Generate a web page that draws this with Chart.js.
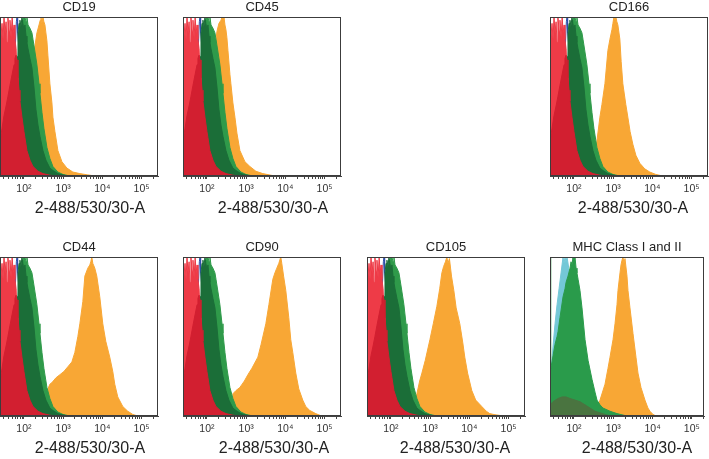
<!DOCTYPE html>
<html>
<head>
<meta charset="utf-8">
<script src="https://cdn.jsdelivr.net/npm/chart.js@4.4.0/dist/chart.umd.min.js"></script>
<style>
    html, body { margin: 0; padding: 0; background: #fff; overflow: hidden; width: 709px; height: 459px; }
    canvas { position: absolute; }
</style>
</head>
<body>
<script>
// axis
const xTitle = '2-488/530/30-A';
const powerLabels = { 100: '10\u00b2', 1000: '10\u00b3', 10000: '10\u2074', 100000: '10\u2075' };

// histograms, [fluorescence, % of max]
const redBright = [[24.5,100],[25.5,100],[26,88],[27.6,96],[29.3,86],[31,100],[33,90],[35,97],[37,84],[39,100],[42,91],[44,98],[47,87],[50,100],[53,90],[56,95],[59,86],[63,80],[67,62],[70,48],[75,30],[80,18],[90,8],[100,3],[113,0]];
const redDark = [[24.5,22],[27.6,30],[31,38],[35,44],[39,50],[44,57],[50,64],[56,70],[59,74],[63,76],[66.5,73],[70.5,62],[75,54],[79,47],[89,37],[100,28],[106,24],[119,16],[142,10],[170,6],[228,3],[305,1.5],[459,0.5],[653,0]];
const blueCtl = [[50,40],[60,80],[64,97],[66.5,100],[69,90],[75,80],[90,60],[120,35],[170,12],[230,3],[300,0]];
const greenDark = [[59,40],[66.5,75],[70.5,90],[75,96],[79,98],[84,94],[89,100],[94,96],[100,92],[106,95],[113,88],[119,84],[127,80],[142,74],[160,68],[180,56],[202,42],[228,32],[256,25],[305,16],[363,10],[459,5],[548,3.5],[734,1.5],[1044,0.5],[1319,0]];
const greenLight = [[66.5,60],[75,85],[84,92],[94,98],[100,100],[106,100],[113,97],[119,100],[127,95],[142,93],[160,90],[170,86],[191,78],[214,70],[242,58],[256,52],[288,40],[323,30],[385,18],[459,11],[548,6],[734,2.5],[985,1],[1483,0]];

const cd19Orange = [[79,5],[113,30],[142,55],[170,70],[191,82],[214,90],[242,95],[260,98],[272,100],[288,96],[305,100],[323,97],[343,95],[363,90],[385,85],[408,76],[459,58],[517,46],[548,37],[616,28],[734,16],[929,9],[1244,5],[1767,2.5],[2663,1.5],[4254,0.7],[6407,0]];
const cd45Orange = [[79,5],[113,28],[142,55],[160,75],[170,86],[180,91],[202,96],[228,98],[242,100],[256,97],[272,100],[288,95],[305,92],[323,87],[343,79],[385,64],[408,58],[459,46],[517,37],[581,27],[692,16],[929,9],[1244,6],[1767,3],[2663,1.5],[4254,0.5],[5400,0]];
const cd166Orange = [[228,0],[323,5],[343,12],[385,22],[459,37],[517,45],[616,58],[734,79],[826,86],[929,92],[985,96],[1044,100],[1107,98],[1173,100],[1244,97],[1319,95],[1483,86],[1600,72],[1767,58],[2100,45],[2368,37],[2700,28],[3175,20],[3800,13],[4782,8],[6400,4.5],[8584,2.5],[12210,1],[18410,0]];
const cd44Orange = [[323,0],[343,5],[408,17],[459,20],[517,21],[653,24],[826,26],[1044,28],[1319,31],[1667,34],[1987,40],[2368,50],[2663,58],[3175,72],[3569,88],[4254,93],[4782,95],[5070,97],[5376,100],[5700,96],[6407,93],[7202,88],[8584,75],[10250,58],[12210,47],[15440,37],[18410,28],[20700,20],[24700,12],[33100,6],[44400,3],[59500,1],[79800,0]];
const cd90Orange = [[385,0],[440,8],[459,14],[550,16],[692,18],[900,22],[1107,26],[1400,30],[1987,37],[2400,45],[3175,58],[3800,70],[4782,86],[5400,90],[6043,93],[6800,96],[7636,100],[8100,96],[9000,88],[10250,79],[12210,62],[13730,48],[15440,40],[18410,27],[22000,17],[27750,10],[33100,6],[41900,3.5],[59500,1.5],[75200,0.5],[85000,0]];
const cd105Orange = [[343,0],[408,8],[459,14],[540,22],[616,27],[750,35],[985,48],[1200,58],[1483,69],[1750,80],[1987,90],[2200,94],[2450,97],[2663,100],[2850,96],[3100,99],[3500,88],[4012,79],[4600,68],[5700,58],[6800,46],[7636,37],[9000,27],[11520,16],[14500,10],[20700,6],[27000,3],[33100,1.5],[45000,0.8],[75200,0]];

const mhcCyan = [[25,20],[26,28],[27.6,36],[29.3,44],[32.9,58],[37,70],[41.6,80],[46.8,90],[52.6,100],[55.7,96],[59.1,100],[62.7,97],[66.5,100],[74.7,92],[89,80],[113,60],[142,40],[191,20],[256,8],[343,2],[459,0]];
const mhcGreen = [[24.5,100],[25.3,100],[25.6,30],[27.6,34],[29.3,38],[32.9,45],[37,50],[39.2,53],[44.1,62],[52.6,75],[59.1,80],[62.7,84],[70.5,88],[79.2,93],[84,97],[89,95],[94.4,100],[100,96],[106,100],[113,93],[119,90],[127,86],[142,79],[160,68],[191,48],[228,35],[288,23],[343,15],[385,10],[459,7],[548,5],[826,3],[1244,1.5],[2234,0]];
const mhcBump = [[24.5,7],[29.3,9],[39.2,11],[49.6,12],[62.7,12],[79.2,11],[106,10],[142,9],[191,7],[256,5],[343,3],[459,2],[616,1],[826,0]];
const mhcOrange = [[343,0],[459,10],[616,20],[734,30],[826,37],[985,48],[1107,58],[1244,70],[1319,79],[1483,90],[1572,95],[1667,98],[1767,100],[1874,96],[1987,99],[2234,88],[2368,79],[2663,68],[3175,52],[3784,37],[4254,27],[5070,18],[6407,10],[7636,5],[8584,3],[10250,1],[12210,0]];

const colors = {
    redBright: '#ee3b47', redDark: '#d21f30', blue: '#2f4fa8',
    greenDark: '#1b6e38', greenLight: '#2f9a4a', orange: '#f8a735',
    cyan: '#74c8d7', green: '#2a9b4b', bump: '#4a7440'
};

function fillSet(data, color) {
    return { data: data, backgroundColor: color, borderColor: color, borderWidth: 1, fill: 'origin', pointRadius: 0, tension: 0 };
}

function markerSets(orange) {
    // first one is drawn on top
    return [
        fillSet(redDark, colors.redDark),
        fillSet(redBright, colors.redBright),
        fillSet(greenDark, colors.greenDark),
        fillSet(greenLight, colors.greenLight),
        { data: blueCtl, borderColor: colors.blue, borderWidth: 1, fill: false, pointRadius: 0, tension: 0 },
        fillSet(orange, colors.orange)
    ];
}

// captionShift: the axis caption sits a little right of the box centre
const panels = [
    { title: 'CD19', left: 0, top: 0, width: 158, max: 262144, captionShift: 11, sets: markerSets(cd19Orange) },
    { title: 'CD45', left: 183, top: 0, width: 158, max: 262144, captionShift: 11, sets: markerSets(cd45Orange) },
    { title: 'CD166', left: 550, top: 0, width: 158, max: 262144, captionShift: 4, sets: markerSets(cd166Orange) },
    { title: 'CD44', left: 0, top: 240, width: 158, max: 262144, captionShift: 11, sets: markerSets(cd44Orange) },
    { title: 'CD90', left: 183, top: 240, width: 158, max: 262144, captionShift: 12, sets: markerSets(cd90Orange) },
    { title: 'CD105', left: 367, top: 240, width: 158, max: 262144, captionShift: 9, sets: markerSets(cd105Orange) },
    { title: 'MHC Class I and II', left: 550, top: 240, width: 154, max: 204000, captionShift: 10, sets: [
        fillSet(mhcBump, colors.bump),
        fillSet(mhcGreen, colors.green),
        fillSet(mhcCyan, colors.cyan),
        fillSet(mhcOrange, colors.orange)
    ] }
];

// minor log ticks 10 .. 900000, trimmed to the axis range
const tickValues = [];
for (let e = 1; e <= 5; e++) {
    for (let k = 1; k <= 9; k++) tickValues.push(k * Math.pow(10, e));
}

const fontFamily = '"Liberation Sans", Arial, sans-serif';

const framePlugin = {
    id: 'frame',
    afterDatasetsDraw(chart) {
        const a = chart.chartArea;
        const ctx = chart.ctx;
        ctx.save();
        ctx.strokeStyle = '#3c3c3c';
        ctx.lineWidth = 1;
        ctx.strokeRect(Math.round(a.left) + 0.5, Math.round(a.top) + 0.5,
            Math.round(a.right - a.left) - 1, Math.round(a.bottom - a.top) - 1);
        ctx.restore();
    }
};

const captionPlugin = {
    id: 'caption',
    afterDraw(chart, args, opts) {
        const a = chart.chartArea;
        const ctx = chart.ctx;
        ctx.save();
        ctx.font = '16px ' + fontFamily;
        ctx.fillStyle = '#222';
        ctx.textAlign = 'center';
        ctx.textBaseline = 'middle';
        ctx.fillText(opts.text, (a.left + a.right) / 2 + opts.shift, chart.height - 16);
        ctx.restore();
    }
};

panels.forEach(p => {
    const canvas = document.createElement('canvas');
    canvas.width = p.width + 12;
    canvas.height = 225;
    canvas.style.left = (p.left - 6) + 'px';
    canvas.style.top = p.top + 'px';
    document.body.appendChild(canvas);

    new Chart(canvas.getContext('2d'), {
        type: 'line',
        data: { datasets: p.sets },
        plugins: [framePlugin, captionPlugin],
        options: {
            responsive: false,
            animation: false,
            devicePixelRatio: 1,
            layout: { padding: { left: 6, right: 6, top: 0, bottom: 0 } },
            plugins: {
                legend: { display: false },
                tooltip: { enabled: false },
                title: {
                    display: true,
                    text: p.title,
                    color: '#222',
                    font: { family: fontFamily, size: 13, weight: 'normal' },
                    padding: { top: 0, bottom: 1.4 }
                },
                caption: { text: xTitle, shift: p.captionShift }
            },
            scales: {
                x: {
                    type: 'logarithmic',
                    min: 24.5,
                    max: p.max,
                    afterBuildTicks: s => {
                        s.ticks = tickValues.filter(v => v >= s.min && v <= s.max).map(v => ({ value: v }));
                    },
                    afterFit: s => { s.height = 49; },
                    grid: { drawOnChartArea: false, drawTicks: true, tickLength: 3, color: '#444' },
                    border: { display: true, color: '#444' },
                    ticks: {
                        autoSkip: false,
                        maxRotation: 0,
                        padding: 4,
                        color: '#333',
                        font: { family: fontFamily, size: 10.5 },
                        callback: v => powerLabels[v] || ''
                    }
                },
                y: { display: false, min: 0, max: 100 }
            }
        }
    });
});
</script>
</body>
</html>
